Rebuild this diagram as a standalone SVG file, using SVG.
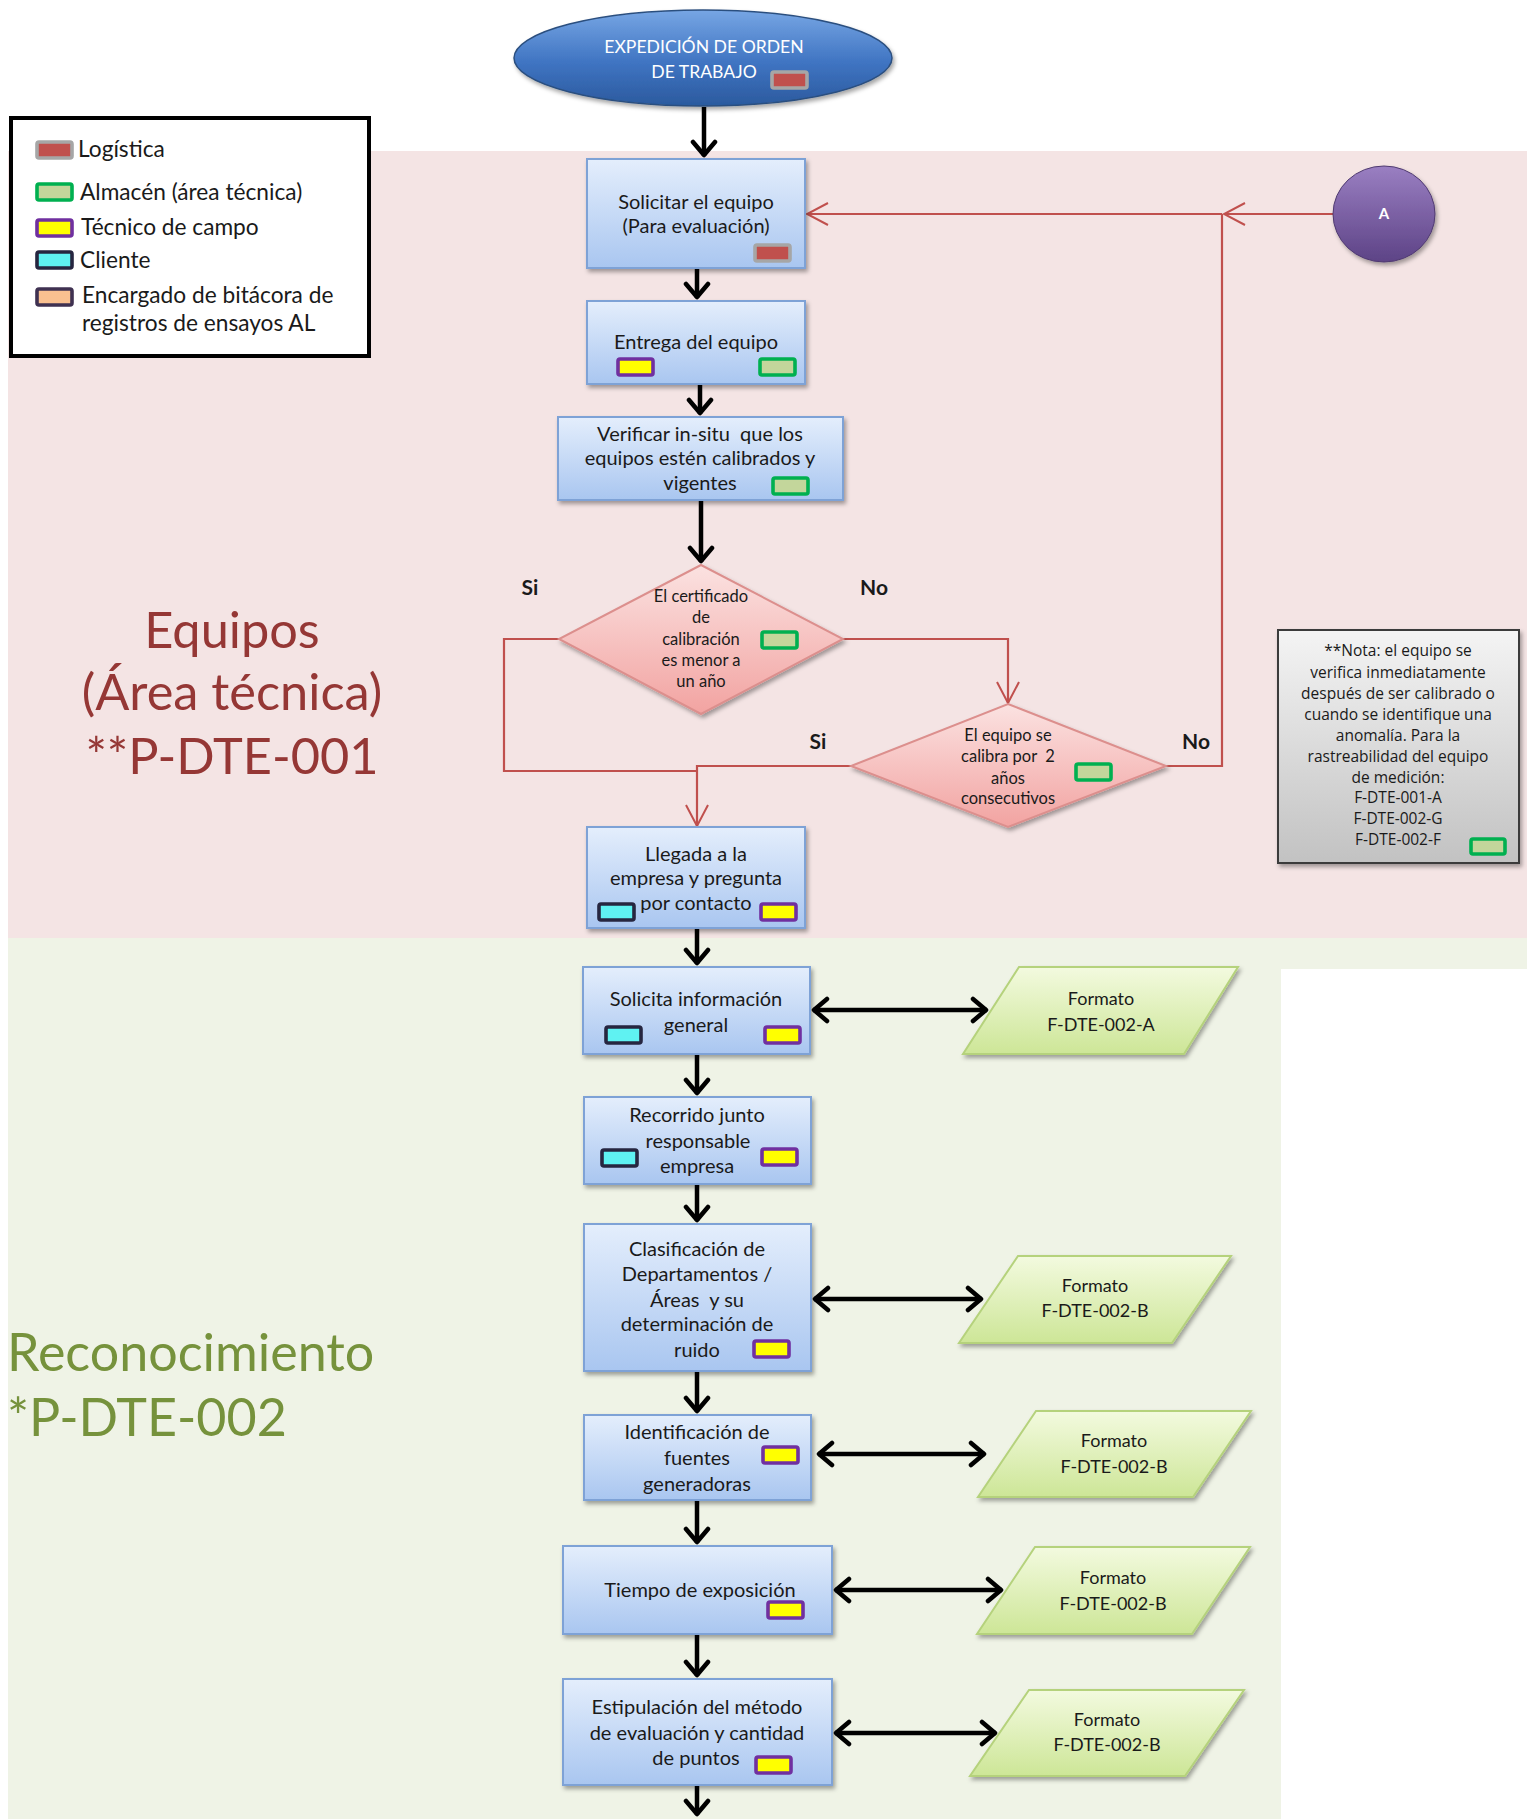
<svg xmlns="http://www.w3.org/2000/svg" width="1533" height="1819" viewBox="0 0 1533 1819">
  <defs>
    <linearGradient id="gNode" x1="0" y1="0" x2="0" y2="1">
      <stop offset="0" stop-color="#e4eefc"/>
      <stop offset="1" stop-color="#a9c6f0"/>
    </linearGradient>
    <linearGradient id="gDia" x1="0" y1="0" x2="0" y2="1">
      <stop offset="0" stop-color="#fbe2e1"/>
      <stop offset="1" stop-color="#f2a3a1"/>
    </linearGradient>
    <linearGradient id="gPara" x1="0" y1="0" x2="0" y2="1">
      <stop offset="0" stop-color="#f3fadf"/>
      <stop offset="1" stop-color="#cde697"/>
    </linearGradient>
    <linearGradient id="gNote" x1="0" y1="0" x2="0" y2="1">
      <stop offset="0" stop-color="#f4f4f4"/>
      <stop offset="1" stop-color="#c2c2c2"/>
    </linearGradient>
    <linearGradient id="gStart" x1="0" y1="0" x2="0" y2="1">
      <stop offset="0" stop-color="#77a6e4"/>
      <stop offset="0.55" stop-color="#3f74c2"/>
      <stop offset="1" stop-color="#2b5a9e"/>
    </linearGradient>
    <linearGradient id="gA" x1="0" y1="0" x2="0" y2="1">
      <stop offset="0" stop-color="#9a7fc2"/>
      <stop offset="1" stop-color="#5d4386"/>
    </linearGradient>
    <filter id="shadow" x="-10%" y="-10%" width="130%" height="140%">
      <feDropShadow dx="2" dy="3" stdDeviation="2.2" flood-color="#000" flood-opacity="0.35"/>
    </filter>
    <marker id="mBlk" viewBox="-18 -14 22 28" refX="0" refY="0" markerWidth="22" markerHeight="28" markerUnits="userSpaceOnUse" orient="auto-start-reverse">
      <path d="M-14,-11 L-1,0 L-14,11" fill="none" stroke="#000" stroke-width="4.5" stroke-linecap="round" stroke-linejoin="round"/>
    </marker>
    <marker id="mRed" viewBox="-24 -14 26 28" refX="0" refY="0" markerWidth="26" markerHeight="28" markerUnits="userSpaceOnUse" orient="auto">
      <path d="M-21,-11 L0,0 L-21,11" fill="none" stroke="#c0504d" stroke-width="2"/>
    </marker>
    <style>
      .t { font-family: Lato, "Liberation Sans", sans-serif; fill: #1a1a1a; }
      .node { font-size: 20px; text-anchor: middle; }
      .fmt { font-size: 18px; text-anchor: middle; }
      .dia { font-size: 16.5px; text-anchor: middle; }
      .lg { font-size: 22.7px; }
      .yn { font-size: 21px; font-weight: bold; text-anchor: middle; }
      .note { font-family: "Open Sans", "DejaVu Sans", sans-serif; font-size: 15.5px; text-anchor: middle; fill: #1a1a1a; }
      .box { fill: url(#gNode); stroke: #7ea2d6; stroke-width: 2; filter: url(#shadow); }
      .diamond { fill: url(#gDia); stroke: #dc8f8d; stroke-width: 2; filter: url(#shadow); }
      .para { fill: url(#gPara); stroke: #b5d27c; stroke-width: 2; filter: url(#shadow); }
      .blk { fill: none; stroke: #000; stroke-width: 4.5; marker-end: url(#mBlk); }
      .dbl { fill: none; stroke: #000; stroke-width: 4.5; marker-start: url(#mBlk); marker-end: url(#mBlk); }
      .red { fill: none; stroke: #c0504d; stroke-width: 2.2; }
      .redA { fill: none; stroke: #c0504d; stroke-width: 2.2; marker-end: url(#mRed); }
      .b { stroke-width: 3.6; }
      .b-log { fill: #c0504d; stroke: #a6a6a6; }
      .b-alm { fill: #c3d69b; stroke: #00b050; }
      .b-tec { fill: #ffff00; stroke: #7030a0; }
      .b-cli { fill: #5ff2f2; stroke: #262640; }
      .b-enc { fill: #fac090; stroke: #3f3151; }
      .ttl1 { font-family: Lato, "Liberation Sans", sans-serif; font-size: 50.5px; fill: #953735; text-anchor: middle; }
      .ttl2 { font-family: Lato, "Liberation Sans", sans-serif; font-size: 52px; fill: #76923c; }
    </style>
  </defs>

  <!-- swimlane backgrounds -->
  <g id="lanes">
    <rect x="8" y="151" width="1519" height="787" fill="#f4e4e4"/>
    <path d="M8,938 H1527 V969 H1281 V1819 H8 Z" fill="#eff3e6"/>
    <text class="ttl1" x="232" y="648">Equipos</text>
    <text class="ttl1" x="232" y="710">(Área técnica)</text>
    <text class="ttl1" x="232" y="774">**P-DTE-001</text>
    <text class="ttl2" x="7" y="1371">Reconocimiento</text>
    <text class="ttl2" x="7" y="1436">*P-DTE-002</text>
  </g>

  <!-- legend -->
  <g id="legend">
    <rect x="11" y="118" width="358" height="238" fill="#fff" stroke="#000" stroke-width="4"/>
    <rect class="b b-log" x="37" y="142" width="35" height="16" rx="2"/>
    <text class="t lg" x="78" y="157">Logística</text>
    <rect class="b b-alm" x="37" y="184" width="35" height="16" rx="2"/>
    <text class="t lg" x="80" y="200">Almacén (área técnica)</text>
    <rect class="b b-tec" x="37" y="220" width="35" height="16" rx="2"/>
    <text class="t lg" x="81" y="235">Técnico de campo</text>
    <rect class="b b-cli" x="37" y="252" width="35" height="16" rx="2"/>
    <text class="t lg" x="80" y="268">Cliente</text>
    <rect class="b b-enc" x="37" y="289" width="35" height="16" rx="2"/>
    <text class="t lg" x="82" y="303">Encargado de bitácora de</text>
    <text class="t lg" x="82" y="331">registros de ensayos AL</text>
  </g>

  <!-- connectors -->
  <g id="connectors">
    <path class="blk" d="M704,107 V156"/>
    <path class="blk" d="M697,268 V298"/>
    <path class="blk" d="M700,384 V414"/>
    <path class="blk" d="M701,500 V562"/>
    <path class="blk" d="M697,928 V964"/>
    <path class="blk" d="M697,1054 V1094"/>
    <path class="blk" d="M697,1184 V1221"/>
    <path class="blk" d="M697,1371 V1412"/>
    <path class="blk" d="M697,1500 V1543"/>
    <path class="blk" d="M697,1634 V1676"/>
    <path class="blk" d="M697,1785 V1815"/>

    <path class="dbl" d="M813,1010 H987"/>
    <path class="dbl" d="M814,1299 H982"/>
    <path class="dbl" d="M818,1454 H985"/>
    <path class="dbl" d="M835,1590 H1002"/>
    <path class="dbl" d="M835,1733 H996"/>

    <path class="redA" d="M843,639 H1008 V703"/>
    <path class="redA" d="M851,766 H697 V826"/>
    <path class="red" d="M559,639 H504 V771 H697"/>
    <path class="red" d="M1166,766 H1222 V214"/>
    <path class="redA" d="M1333,214 H1224"/>
    <path class="redA" d="M1222,214 H807"/>
  </g>

  <!-- start -->
  <g id="start">
    <ellipse cx="703" cy="58" rx="189" ry="48" fill="url(#gStart)" stroke="#2c4f7f" stroke-width="1.5" filter="url(#shadow)"/>
    <text class="t" x="704" y="53" font-size="17.6" text-anchor="middle" style="fill:#fff">EXPEDICIÓN DE ORDEN</text>
    <text class="t" x="704" y="78" font-size="17.6" text-anchor="middle" style="fill:#fff">DE TRABAJO</text>
    <rect class="b b-log" x="772" y="72" width="35" height="16" rx="2"/>
  </g>

  <g id="n-solicitar">
    <rect class="box" x="587" y="159" width="218" height="109"/>
    <text class="t node" x="696" y="209">Solicitar el equipo</text>
    <text class="t node" x="696" y="233">(Para evaluación)</text>
    <rect class="b b-log" x="755" y="245" width="35" height="16" rx="2"/>
  </g>

  <g id="n-entrega">
    <rect class="box" x="587" y="301" width="218" height="83"/>
    <text class="t node" x="696" y="349">Entrega del equipo</text>
    <rect class="b b-tec" x="618" y="359" width="35" height="16" rx="2"/>
    <rect class="b b-alm" x="760" y="359" width="35" height="16" rx="2"/>
  </g>

  <g id="n-verificar">
    <rect class="box" x="558" y="417" width="285" height="83"/>
    <text class="t node" x="700" y="441" xml:space="preserve">Verificar in-situ  que los</text>
    <text class="t node" x="700" y="465">equipos estén calibrados y</text>
    <text class="t node" x="700" y="490">vigentes</text>
    <rect class="b b-alm" x="773" y="478" width="35" height="16" rx="2"/>
  </g>

  <g id="d-certificado">
    <polygon class="diamond" points="701,565 843,639 701,714 559,639"/>
    <text class="t dia" x="701" y="602">El certificado</text>
    <text class="t dia" x="701" y="623">de</text>
    <text class="t dia" x="701" y="645">calibración</text>
    <text class="t dia" x="701" y="666">es menor a</text>
    <text class="t dia" x="701" y="687">un año</text>
    <rect class="b b-alm" x="762" y="632" width="35" height="16" rx="2"/>
    <text class="t yn" x="530" y="595">Si</text>
    <text class="t yn" x="874" y="595">No</text>
  </g>

  <g id="d-dosanos">
    <polygon class="diamond" points="1008,704 1166,766 1008,827 851,766"/>
    <text class="t dia" x="1008" y="741">El equipo se</text>
    <text class="t dia" x="1008" y="762" xml:space="preserve">calibra por  2</text>
    <text class="t dia" x="1008" y="784">años</text>
    <text class="t dia" x="1008" y="804">consecutivos</text>
    <rect class="b b-alm" x="1076" y="764" width="35" height="16" rx="2"/>
    <text class="t yn" x="818" y="749">Si</text>
    <text class="t yn" x="1196" y="749">No</text>
  </g>

  <g id="c-a">
    <ellipse cx="1384" cy="214" rx="51" ry="48" fill="url(#gA)" stroke="#4f3a70" stroke-width="1" filter="url(#shadow)"/>
    <text class="t" x="1384" y="219" font-size="15" font-weight="bold" text-anchor="middle" style="fill:#fff">A</text>
  </g>

  <g id="note">
    <rect x="1278" y="630" width="241" height="233" fill="url(#gNote)" stroke="#3a3a3a" stroke-width="2" filter="url(#shadow)"/>
    <text class="note" x="1398" y="656">**Nota: el equipo se</text>
    <text class="note" x="1398" y="678">verifica inmediatamente</text>
    <text class="note" x="1398" y="699">después de ser calibrado o</text>
    <text class="note" x="1398" y="720">cuando se identifique una</text>
    <text class="note" x="1398" y="741">anomalía. Para la</text>
    <text class="note" x="1398" y="762">rastreabilidad del equipo</text>
    <text class="note" x="1398" y="783">de medición:</text>
    <text class="note" x="1398" y="803">F-DTE-001-A</text>
    <text class="note" x="1398" y="824">F-DTE-002-G</text>
    <text class="note" x="1398" y="845">F-DTE-002-F</text>
    <rect class="b b-alm" x="1471" y="839" width="34" height="15" rx="2"/>
  </g>

  <g id="n-llegada">
    <rect class="box" x="587" y="827" width="218" height="101"/>
    <text class="t node" x="696" y="861">Llegada a la</text>
    <text class="t node" x="696" y="885">empresa y pregunta</text>
    <text class="t node" x="696" y="910">por contacto</text>
    <rect class="b b-cli" x="599" y="904" width="35" height="16" rx="2"/>
    <rect class="b b-tec" x="761" y="904" width="35" height="16" rx="2"/>
  </g>

  <g id="n-solicita-info">
    <rect class="box" x="583" y="967" width="227" height="87"/>
    <text class="t node" x="696" y="1006">Solicita información</text>
    <text class="t node" x="696" y="1032">general</text>
    <rect class="b b-cli" x="606" y="1027" width="35" height="16" rx="2"/>
    <rect class="b b-tec" x="765" y="1027" width="35" height="16" rx="2"/>
  </g>

  <g id="n-recorrido">
    <rect class="box" x="584" y="1097" width="227" height="87"/>
    <text class="t node" x="697" y="1122">Recorrido junto</text>
    <text class="t node" x="698" y="1148">responsable</text>
    <text class="t node" x="697" y="1173">empresa</text>
    <rect class="b b-cli" x="602" y="1150" width="35" height="16" rx="2"/>
    <rect class="b b-tec" x="762" y="1149" width="35" height="16" rx="2"/>
  </g>

  <g id="n-clasificacion">
    <rect class="box" x="584" y="1224" width="227" height="147"/>
    <text class="t node" x="697" y="1256">Clasificación de</text>
    <text class="t node" x="697" y="1281">Departamentos /</text>
    <text class="t node" x="697" y="1307" xml:space="preserve">Áreas  y su</text>
    <text class="t node" x="697" y="1331">determinación de</text>
    <text class="t node" x="697" y="1357">ruido</text>
    <rect class="b b-tec" x="754" y="1341" width="35" height="16" rx="2"/>
  </g>

  <g id="n-identificacion">
    <rect class="box" x="584" y="1415" width="227" height="85"/>
    <text class="t node" x="697" y="1439">Identificación de</text>
    <text class="t node" x="697" y="1465">fuentes</text>
    <text class="t node" x="697" y="1491">generadoras</text>
    <rect class="b b-tec" x="763" y="1447" width="35" height="16" rx="2"/>
  </g>

  <g id="n-tiempo">
    <rect class="box" x="563" y="1546" width="269" height="88"/>
    <text class="t node" x="700" y="1597">Tiempo de exposición</text>
    <rect class="b b-tec" x="768" y="1602" width="35" height="16" rx="2"/>
  </g>

  <g id="n-estipulacion">
    <rect class="box" x="563" y="1679" width="269" height="106"/>
    <text class="t node" x="697" y="1714">Estipulación del método</text>
    <text class="t node" x="697" y="1740">de evaluación y cantidad</text>
    <text class="t node" x="696" y="1765">de puntos</text>
    <rect class="b b-tec" x="756" y="1757" width="35" height="16" rx="2"/>
  </g>

  <g id="f-002a">
    <polygon class="para" points="1019,967 1238,967 1184,1054 963,1054"/>
    <text class="t fmt" x="1101" y="1005">Formato</text>
    <text class="t fmt" x="1101" y="1031">F-DTE-002-A</text>
  </g>
  <g id="f-002b-1">
    <polygon class="para" points="1018,1256 1231,1256 1172,1343 959,1343"/>
    <text class="t fmt" x="1095" y="1292">Formato</text>
    <text class="t fmt" x="1095" y="1317">F-DTE-002-B</text>
  </g>
  <g id="f-002b-2">
    <polygon class="para" points="1036,1411 1251,1411 1193,1497 978,1497"/>
    <text class="t fmt" x="1114" y="1447">Formato</text>
    <text class="t fmt" x="1114" y="1473">F-DTE-002-B</text>
  </g>
  <g id="f-002b-3">
    <polygon class="para" points="1035,1547 1250,1547 1192,1634 977,1634"/>
    <text class="t fmt" x="1113" y="1584">Formato</text>
    <text class="t fmt" x="1113" y="1610">F-DTE-002-B</text>
  </g>
  <g id="f-002b-4">
    <polygon class="para" points="1029,1690 1244,1690 1185,1776 970,1776"/>
    <text class="t fmt" x="1107" y="1726">Formato</text>
    <text class="t fmt" x="1107" y="1751">F-DTE-002-B</text>
  </g>
</svg>
